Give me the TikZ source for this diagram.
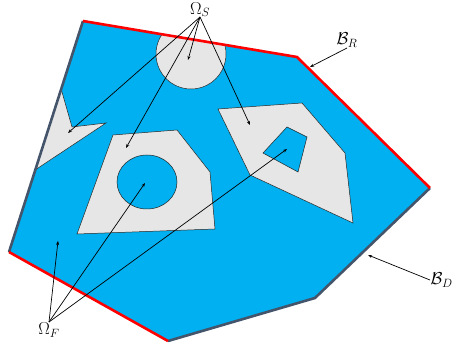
\documentclass[tikz,border=0pt]{standalone}
\usepackage{tikz}
\usetikzlibrary{arrows.meta,positioning}
\definecolor{fluidblue}{RGB}{0,176,240}
\definecolor{solidgray}{RGB}{230,230,230}
\definecolor{slate}{RGB}{68,84,106}

\begin{document}
\begin{tikzpicture}[
    x=1pt, y=-1pt,
    solidregion/.style={fill=solidgray, draw=black!85, line width=0.5pt},
    fluidregion/.style={fill=fluidblue, draw=black!85, line width=0.5pt},
    robin/.style={draw=red, line width=2.6pt},
    dirichlet/.style={draw=slate, line width=2.6pt},
    pointer/.style={-{Stealth[length=4pt, width=3pt]}, line width=0.7pt},
    lbl/.style={font=\fontsize{18}{20}\selectfont, inner sep=0.5pt}
]
    \useasboundingbox (0,0) rectangle (456,350);

    % Outer domain
    \coordinate (p1) at (83,21);
    \coordinate (p2) at (297,57);
    \coordinate (p3) at (430,188);
    \coordinate (p4) at (315,298);
    \coordinate (p5) at (168,341);
    \coordinate (p6) at (9,252);
    \fill[fluidblue] (p1) -- (p2) -- (p3) -- (p4) -- (p5) -- (p6) -- cycle;

    % Solids touching the boundary
    \begin{scope}
        \clip (p1) -- (p2) -- (p3) -- (p4) -- (p5) -- (p6) -- cycle;
        \draw[solidregion] (191,54) circle[radius=35];
        \draw[solidregion] (58,78) -- (72,127) -- (106,123) -- (26,176) -- cycle;
    \end{scope}

    % Inner solids with holes
    \draw[solidregion] (113,135) -- (177,130) -- (210,172) -- (215,229) -- (77,234) -- cycle;
    \draw[fluidregion] (147,182) ellipse [x radius=30, y radius=27];
    \draw[solidregion] (218,109) -- (302,103) -- (345,153) -- (353,223) -- (250,175) -- cycle;
    \draw[fluidregion] (287,127) -- (307,137) -- (298,172) -- (263,153) -- cycle;

    % Boundary parts
    \draw[dirichlet] (p6) -- (p1);
    \draw[dirichlet] (p3) -- (p4) -- (p5);
    \draw[robin] (p1) -- (p2) -- (p3);
    \draw[robin] (p5) -- (p6);

    % Labels
    \node[lbl, anchor=south, inner sep=0pt] (omS) at (200,17) {$\Omega_S$};
    \node[lbl, anchor=north] (omF) at (49,322) {$\Omega_F$};
    \node[lbl, anchor=south] (bR) at (347,48) {$\mathcal{B}_R$};
    \node[lbl, anchor=west] (bD) at (430,280) {$\mathcal{B}_D$};

    % Arrow targets
    \coordinate (sCirc) at (188,60);
    \coordinate (sNotch) at (68,133);
    \coordinate (sPent) at (126,148);
    \coordinate (sQuad) at (250,125);
    \coordinate (fBulk) at (58,241);
    \coordinate (fHole) at (145,183);
    \coordinate (fQuad) at (287,149);
    \coordinate (rEdge) at (310,67);
    \coordinate (dEdge) at (368,255);

    \foreach \t in {sCirc,sNotch,sPent,sQuad}
        \draw[pointer] (omS.south) -- (\t);
    \foreach \t in {fBulk,fHole,fQuad}
        \draw[pointer] (omF.north) -- (\t);
    \draw[pointer] (bR.south) -- (rEdge);
    \draw[pointer] (bD.west) -- (dEdge);

\end{tikzpicture}
\end{document}
